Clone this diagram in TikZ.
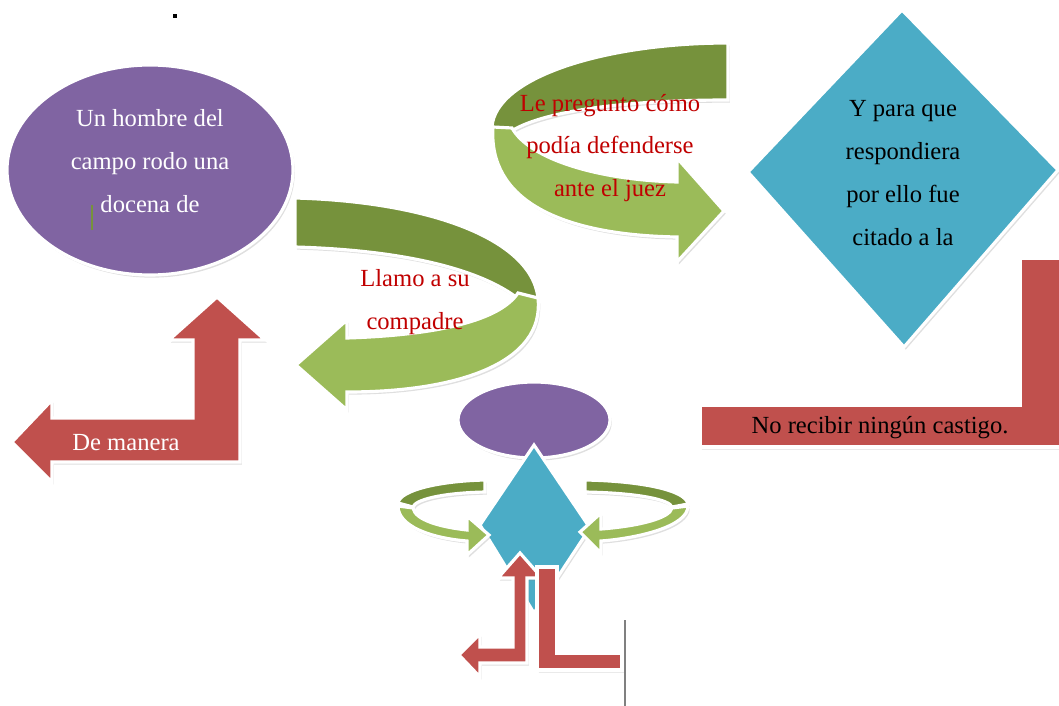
\documentclass[tikz,border=0pt]{standalone}
\usepackage{fontspec}
\setmainfont{Liberation Serif}
\usepackage{tikz}
\usetikzlibrary{shadows}

\definecolor{morado}{HTML}{8064A2}
\definecolor{turquesa}{HTML}{4BACC6}
\definecolor{rojo}{HTML}{C0504D}
\definecolor{verdeosc}{HTML}{76923C}
\definecolor{verdecla}{HTML}{9BBB59}
\definecolor{letrarojo}{HTML}{C00000}

\tikzset{
  forma/.style = {draw = white, line width = 1.8pt, line join = miter,
    drop shadow = {opacity = 0.25, shadow xshift = 1pt, shadow yshift = -1.5pt}},
  texto/.style = {font = \fontsize{14}{24.4}\selectfont, align = center, inner sep = 0pt},
}

\begin{document}
\begin{tikzpicture}[x = 0.02cm, y = -0.02cm]
\useasboundingbox (0,0) rectangle (1059,706);

% ovalo grande
\draw [forma, fill = morado] (150,170) ellipse [x radius = 143, y radius = 105];

% flecha en U del medio
\draw [forma, fill = verdeosc] (295,198) -- (295,247) .. controls (400,250) and (480,268) .. (520,300) -- (538,310) .. controls (545,245) and (440,202) .. (295,198) -- cycle;
\draw [forma, fill = verdecla] (538,298) .. controls (545,362) and (460,392) .. (347,392) -- (347,410) -- (296,365) -- (347,320) -- (347,338) .. controls (440,335) and (500,320) .. (518,293) -- cycle;

% flecha en U de arriba
\draw [forma, fill = verdeosc] (728,43) -- (728,100) .. controls (620,100) and (540,112) .. (510,132) -- (492,132) .. controls (488,80) and (600,43) .. (728,43) -- cycle;
\draw [forma, fill = verdecla] (493,127) .. controls (488,200) and (560,235) .. (677,237) -- (677,262) -- (724,211) -- (677,158) -- (677,182) .. controls (600,180) and (530,160) .. (512,128) -- cycle;

% rombo grande
\draw [forma, fill = turquesa] (902,10) -- (1058,170) -- (904,347) -- (748,172) -- cycle;

% flecha roja derecha
\draw [forma, fill = rojo] (1020,258) -- (1070,258) -- (1070,447) -- (700,447) -- (700,405) -- (1020,405) -- cycle;

% flecha roja izquierda
\draw [forma, fill = rojo] (240,340) -- (265,340) -- (217,297) -- (169,340) -- (193,340) -- (193,418) -- (52,418) -- (52,400) -- (12,442) -- (52,482) -- (52,462) -- (240,462) -- cycle;

% ovalo chico
\draw [forma, fill = morado] (534,420) ellipse [x radius = 76, y radius = 38];

% anillos de atras
\draw [forma, fill = verdeosc] (485,480) -- (485,492) .. controls (440,493) and (415,500) .. (413,507) -- (398,503) .. controls (400,490) and (440,481) .. (485,480) -- cycle;
\draw [forma, fill = verdeosc] (585,480) -- (585,492) .. controls (640,493) and (670,500) .. (672,507) -- (688,504) .. controls (686,490) and (640,481) .. (585,480) -- cycle;

% rombo chico
\draw [forma, fill = turquesa] (534,445) -- (590,528) -- (534,613) -- (480,525) -- cycle;

% anillos de adelante
\draw [forma, fill = verdecla] (398,506) .. controls (398,526) and (430,538) .. (467,541) -- (467,555) -- (489,535) -- (467,516) -- (467,530) .. controls (440,527) and (415,520) .. (413,508) -- cycle;
\draw [forma, fill = verdecla] (688,506) .. controls (688,526) and (640,538) .. (601,541) -- (601,553) -- (580,532) -- (601,513) -- (601,529) .. controls (640,526) and (670,518) .. (672,508) -- cycle;

% flechas rojas de abajo
\draw [forma, fill = rojo] (513,578) -- (498,578) -- (520,553) -- (542,578) -- (527,578) -- (527,663) -- (480,663) -- (480,677) -- (459,655) -- (480,634) -- (480,647) -- (513,647) -- cycle;
\draw [forma, fill = rojo] (537,567) -- (557,567) -- (557,653) -- (622,653) -- (622,670) -- (537,670) -- cycle;
\draw [gray, line width = 1.5pt] (625,620) -- (625,706);

% textos
\node [texto, text = white] (hombre) at (150,161) {Un hombre del\\campo rodo una\\docena de};
\node [texto, text = letrarojo] (llamo) at (415,302) {Llamo a su\\compadre};
\node [texto, text = letrarojo] (pregunto) at (610,148) {Le pregunto cómo\\podía defenderse\\ante el juez};
\node [texto] (citado) at (903,173) {Y para que\\respondiera\\por ello fue\\citado a la};
\node [texto, text = white] (manera) at (126,443) {De manera};
\node [texto] (castigo) at (880,428) {No recibir ningún castigo.};

% marcas sueltas
\fill (173,14) rectangle (177,18);
\draw [verdeosc, line width = 0.6pt] (92,205) -- (92,230);
\end{tikzpicture}
\end{document}
